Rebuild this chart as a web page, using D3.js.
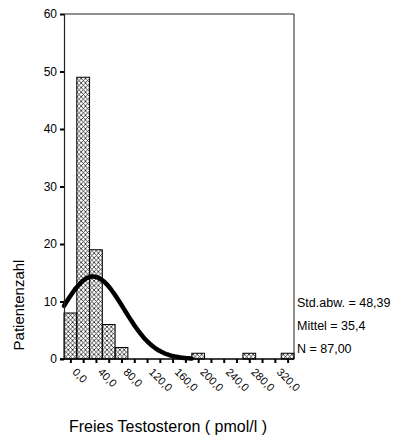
<!DOCTYPE html>
<html>
<head>
<meta charset="utf-8">
<script src="https://cdn.jsdelivr.net/npm/d3@7"></script>
<style>
  html, body { margin: 0; padding: 0; background: #fff; }
  svg { display: block; font-family: "Liberation Sans", Arial, sans-serif; }
</style>
</head>
<body>
<svg id="chart" width="396" height="438"></svg>
<script>
// Histogram bins (centre of each 20-unit class) and patient counts
const binCenters = [0, 20, 40, 60, 80, 100, 120, 140, 160, 180, 200, 220, 240, 260, 280, 300, 320, 340];
const counts     = [8, 49, 19, 6, 2, 0, 0, 0, 0, 0, 1, 0, 0, 0, 1, 0, 0, 1];
const binWidth = 20;

// Axis tick values
const yTicks = [0, 10, 20, 30, 40, 50, 60];
const xLabelValues = [0, 40, 80, 120, 160, 200, 240, 280, 320];
const xLabelTexts  = ["0,0", "40,0", "80,0", "120,0", "160,0", "200,0", "240,0", "280,0", "320,0"];

// Summary statistics
const statLabels = ["Std.abw. = 48,39", "Mittel = 35,4", "N = 87,00"];
const stdDev = 48.39;
const mean = 35.4;
const nTotal = 87;

const svg = d3.select("#chart");

const plotL = 64, plotR = 294, plotT = 14, plotB = 359;
const x = d3.scaleLinear().domain([-10, 350]).range([plotL, plotR]);
const y = d3.scaleLinear().domain([0, 60]).range([plotB, plotT]);

// Cross-hatch fill
const defs = svg.append("defs");
const pat = defs.append("pattern")
  .attr("id", "hatch")
  .attr("patternUnits", "userSpaceOnUse")
  .attr("width", 4.3).attr("height", 4.6)
  .attr("x", plotL).attr("y", plotB);
pat.append("path").attr("d", "M0,0L4.3,4.6M4.3,0L0,4.6")
  .attr("stroke", "#111").attr("stroke-width", 0.75).attr("fill", "none");

// Frame (top and right)
svg.append("path")
  .attr("d", `M${plotL},${plotT}H${plotR}V${plotB}`)
  .attr("fill", "none").attr("stroke", "#222").attr("stroke-width", 1);

// Bars
const bins = binCenters.map((c, i) => ({ c, n: counts[i] })).filter(d => d.n > 0);
svg.append("g").selectAll("rect").data(bins).join("rect")
  .attr("x", d => x(d.c - binWidth / 2))
  .attr("width", d => x(d.c + binWidth / 2) - x(d.c - binWidth / 2))
  .attr("y", d => y(d.n))
  .attr("height", d => y(0) - y(d.n))
  .attr("fill", "url(#hatch)")
  .attr("stroke", "#000").attr("stroke-width", 1);

// Fitted normal curve scaled to the histogram
const peak = nTotal * binWidth / (stdDev * Math.sqrt(2 * Math.PI));
const curveXs = d3.range(-10, 190.01, 2);
const curvePts = curveXs.map(v => [v, peak * Math.exp(-((v - mean) ** 2) / (2 * stdDev * stdDev))]);
svg.append("path")
  .datum(curvePts)
  .attr("d", d3.line().x(d => x(d[0])).y(d => y(d[1])).curve(d3.curveBasis))
  .attr("fill", "none").attr("stroke", "#000").attr("stroke-width", 4.5)
  .attr("stroke-linecap", "round");

// Y axis
const yAxis = svg.append("g")
  .attr("transform", `translate(${plotL},0)`)
  .call(d3.axisLeft(y).tickValues(yTicks).tickSize(4).tickPadding(3).tickFormat(d3.format("d")));
yAxis.select(".domain").attr("stroke", "#222").attr("stroke-width", 1.2);
yAxis.selectAll(".tick line").attr("stroke", "#000").attr("stroke-width", 2);
yAxis.selectAll(".tick text").attr("font-size", 12).attr("fill", "#000")
  .attr("font-family", "Liberation Sans, Arial, sans-serif");

// X axis
const xAxis = svg.append("g")
  .attr("transform", `translate(0,${plotB})`)
  .call(d3.axisBottom(x).tickValues(binCenters).tickSize(4).tickFormat(""));
xAxis.select(".domain").attr("d", `M${plotL - 4},0H${plotR}`).attr("stroke", "#000").attr("stroke-width", 1.6);
xAxis.selectAll(".tick line").attr("stroke", "#000").attr("stroke-width", 2);

// Rotated x tick labels
svg.append("g").selectAll("text").data(xLabelValues).join("text")
  .attr("transform", (d) => `translate(${x(d) + 4},370) rotate(45)`)
  .attr("dy", "0.35em")
  .attr("font-size", 11)
  .attr("fill", "#000")
  .text((d, i) => xLabelTexts[i]);

// Axis titles
svg.append("text")
  .attr("transform", "translate(24,305) rotate(-90)")
  .attr("text-anchor", "middle")
  .attr("font-size", 15)
  .attr("fill", "#000")
  .text("Patientenzahl");

svg.append("text")
  .attr("x", 168).attr("y", 432)
  .attr("text-anchor", "middle")
  .attr("font-size", 16)
  .attr("fill", "#000")
  .text("Freies Testosteron ( pmol/l )");

// Statistics block
svg.append("g").selectAll("text").data(statLabels).join("text")
  .attr("x", 297)
  .attr("y", (d, i) => 307 + i * 23)
  .attr("font-size", 12.5)
  .attr("fill", "#000")
  .text(d => d);
</script>
</body>
</html>
